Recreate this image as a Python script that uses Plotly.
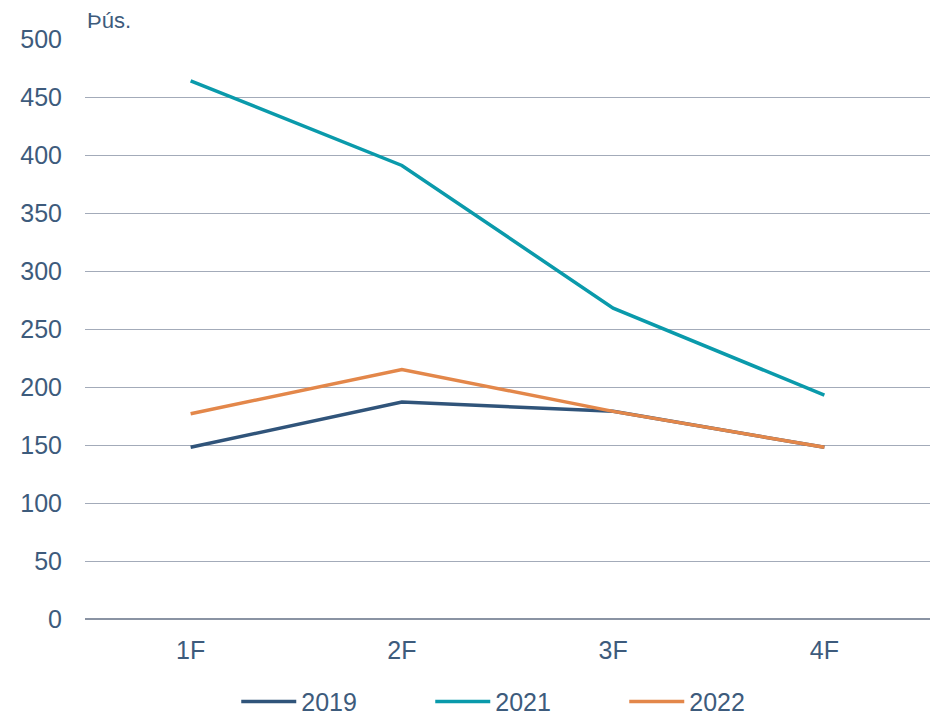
import plotly.graph_objects as go

categories = ["1F", "2F", "3F", "4F"]
series_names = ["2019", "2021", "2022"]
v2019 = [148, 187, 179, 148]
v2021 = [464, 391, 268, 193]
v2022 = [177, 215, 179, 148]
colors = ["#30547a", "#0a9aab", "#e3874a"]
y_ticks = [0, 50, 100, 150, 200, 250, 300, 350, 400, 450, 500]

fig = go.Figure()
for name, vals, col in zip(series_names, [v2019, v2021, v2022], colors):
    fig.add_trace(go.Scatter(x=categories, y=vals, name=name, mode="lines",
                             line=dict(color=col, width=3.5)))

font_col = "#3d5b7c"
fig.update_layout(
    width=931, height=717,
    paper_bgcolor="white", plot_bgcolor="white",
    margin=dict(l=85, r=1, t=39, b=98, autoexpand=False),
    font=dict(family="Liberation Sans, Arial, sans-serif", size=25, color=font_col),
    xaxis=dict(type="category", range=[-0.5, 3.5], showgrid=False, zeroline=False,
               showline=False, ticks="", ticklabelstandoff=14,
               tickfont=dict(size=25, color=font_col)),
    yaxis=dict(range=[0, 500], tickvals=y_ticks, showgrid=True, gridcolor="#a3abb9",
               gridwidth=1, zeroline=True, zerolinecolor="#8a93a3", zerolinewidth=1.5,
               showline=False, ticks="", ticklabelstandoff=22,
               tickfont=dict(size=25, color=font_col)),
    legend=dict(orientation="h", x=0.179, xanchor="left", y=-0.103, yanchor="top",
                font=dict(size=25, color=font_col), entrywidth=124, entrywidthmode="pixels",
                itemwidth=55),
    showlegend=True,
    annotations=[dict(text="Þús.", xref="paper", yref="paper", x=0, y=1.0,
                      xanchor="left", yanchor="bottom", yshift=4, xshift=0, showarrow=False,
                      font=dict(size=22, color=font_col))],
)
fig.write_html("out.html", config={"displayModeBar": False},
               post_script="document.body.style.margin='0px';document.body.style.overflow='hidden';")
